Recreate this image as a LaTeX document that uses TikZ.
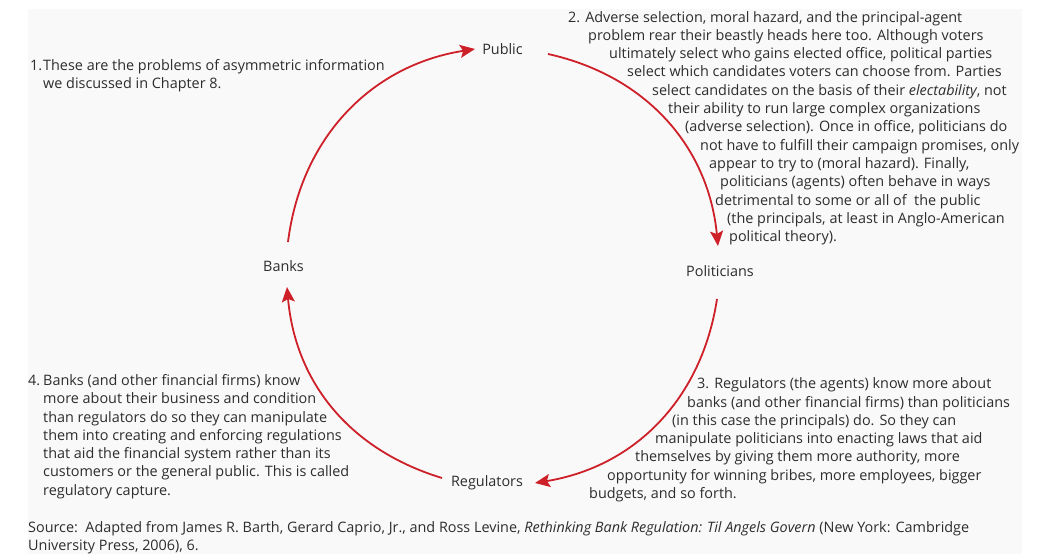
\documentclass[tikz,border=0pt]{standalone}
\usepackage{fontspec}
\setmainfont{Open Sans}
\usetikzlibrary{arrows.meta}
\definecolor{txt}{RGB}{45,45,45}
\definecolor{arrowred}{RGB}{205,32,40}
\definecolor{panel}{RGB}{249,249,249}
\tikzset{
  lbl/.style={inner sep=0pt, text=txt, font=\fontsize{14.4}{18.3}\selectfont},
  note/.style={inner sep=0pt, text=txt, align=left, anchor=north west, font=\fontsize{14.4}{18.3}\selectfont},
  cyc/.style={draw=arrowred, line width=1.8pt, -{Stealth[length=15pt,width=13pt,inset=3pt]}},
}
\begin{document}
\begin{tikzpicture}[x=1pt,y=-1pt]
\useasboundingbox (0,0) rectangle (1045,554);
\fill[panel] (28,9) rectangle (1022,554);

\node[lbl] (public) at (502.5,49) {Public};
\node[lbl] (politicians) at (720,271) {Politicians};
\node[lbl] (regulators) at (487,483) {Regulators};
\node[lbl] (banks) at (283.5,266) {Banks};

\draw[cyc] ([shift={(4.5,-24)}]banks.center) to[bend left=37] ([shift={(-27.5,0)}]public.center);
\draw[cyc] ([shift={(45.5,5)}]public.center) to[bend left=36] ([shift={(-2,-25)}]politicians.center);
\draw[cyc] ([shift={(-3,28)}]politicians.center) to[bend left=36] ([shift={(48,0)}]regulators.center);
\draw[cyc] ([shift={(-45,-5)}]regulators.center) to[bend left=34] ([shift={(3.5,21)}]banks.center);

\node[note] (n1) at (30,57.4) {\strut\makebox[13pt][l]{1.}These are the problems of asymmetric information\\
\hspace*{13pt}we discussed in Chapter 8.};

\node[note] (n2) at (568,9) {\strut 2. Adverse selection, moral hazard, and the principal-agent\\
\hspace*{20pt}problem rear their beastly heads here too. Although voters\\
\hspace*{41pt}ultimately select who gains elected office, political parties\\
\hspace*{59pt}select which candidates voters can choose from. Parties\\
\hspace*{84pt}select candidates on the basis of their \emph{electability}, not\\
\hspace*{100pt}their ability to run large complex organizations\\
\hspace*{117pt}(adverse selection). Once in office, politicians do\\
\hspace*{132pt}not have to fulfill their campaign promises, only\\
\hspace*{141pt}appear to try to (moral hazard). Finally,\\
\hspace*{152pt}politicians (agents) often behave in ways\\
\hspace*{147pt}detrimental to some or all of \ the public\\
\hspace*{159pt}(the principals, at least in Anglo-American\\
\hspace*{161pt}political theory).};

\node[note] (n3) at (589,375.7) {\strut\hspace*{108pt}3. Regulators (the agents) know more about\\
\hspace*{98pt}banks (and other financial firms) than politicians\\
\hspace*{83pt}(in this case the principals) do. So they can\\
\hspace*{66pt}manipulate politicians into enacting laws that aid\\
\hspace*{46pt}themselves by giving them more authority, more\\
\hspace*{18pt}opportunity for winning bribes, more employees, bigger\\
budgets, and so forth.};

\node[note] (n4) at (28,372.4) {\strut\makebox[15pt][l]{4.}Banks (and other financial firms) know\\
\hspace*{15pt}more about their business and condition\\
\hspace*{15pt}than regulators do so they can manipulate\\
\hspace*{15pt}them into creating and enforcing regulations\\
\hspace*{15pt}that aid the financial system rather than its\\
\hspace*{15pt}customers or the general public. This is called\\
\hspace*{15pt}regulatory capture.};

\node[note] (src) at (28,519) {\strut Source:\ \ Adapted from James R. Barth, Gerard Caprio, Jr., and Ross Levine, \emph{Rethinking Bank Regulation: Til Angels Govern} (New York: Cambridge\\
University Press, 2006), 6.};
\end{tikzpicture}
\end{document}
